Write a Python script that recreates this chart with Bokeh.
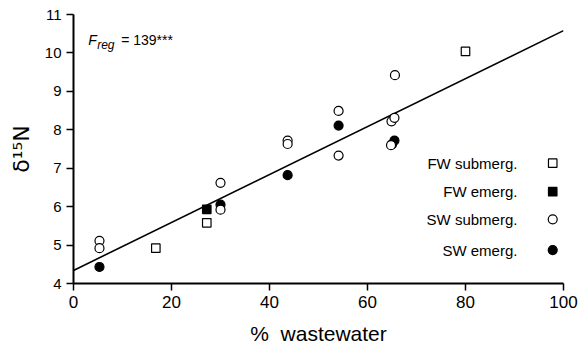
from bokeh.plotting import figure
from bokeh.models import Label, FixedTicker, Range1d
from bokeh.core.properties import value
from bokeh.embed import file_html
from bokeh.resources import INLINE

# ---- data ----
fw_sub_x = [16.8, 27.2, 80.0]
fw_sub_y = [4.92, 5.58, 10.04]
fw_em_x = [27.2]
fw_em_y = [5.93]
sw_sub_x = [5.3, 5.3, 30.0, 30.0, 43.7, 43.7, 54.1, 54.1, 64.9, 65.5, 65.6, 64.8]
sw_sub_y = [5.11, 4.92, 6.62, 5.92, 7.72, 7.63, 8.49, 7.33, 8.22, 8.31, 9.42, 7.6]
sw_em_x = [5.3, 30.0, 43.7, 54.1, 65.0, 65.5]
sw_em_y = [4.43, 6.05, 6.82, 8.11, 7.62, 7.72]
reg_x = [0, 100]
reg_y = [4.34, 10.58]
x_ticks = [0, 20, 40, 60, 80, 100]
y_ticks = [4, 5, 6, 7, 8, 9, 10, 11]
legend_labels = ["FW submerg.", "FW emerg.", "SW submerg.", "SW emerg."]
stat_value = "= 139***"

# ---- layout constants ----
FONT = "Liberation Sans"
legend_text_x = 90.6
legend_mark_x = 97.8
legend_rows_y = [7.13, 6.39, 5.67, 4.87]

p = figure(width=578, height=348, output_backend="svg", toolbar_location=None,
           x_range=Range1d(0, 100), y_range=Range1d(4, 11),
           min_border_left=73, min_border_right=15, min_border_top=14, min_border_bottom=65,
           frame_width=490, frame_height=269)
p.outline_line_color = None
p.grid.visible = False
p.background_fill_color = "white"
p.border_fill_color = "white"

for ax in (p.xaxis[0], p.yaxis[0]):
    ax.axis_line_width = 2
    ax.axis_line_color = "black"
    ax.major_tick_line_width = 1.5
    ax.major_tick_line_color = "black"
    ax.major_tick_out = 7
    ax.major_tick_in = 0
    ax.minor_tick_line_color = None
    ax.major_label_text_font = FONT
    ax.major_label_text_color = "black"
    ax.axis_label_text_font = FONT
    ax.axis_label_text_font_style = "normal"
    ax.axis_label_text_color = "black"

p.xaxis.ticker = FixedTicker(ticks=x_ticks)
p.yaxis.ticker = FixedTicker(ticks=y_ticks)
p.xaxis.major_label_text_font_size = "17px"
p.yaxis.major_label_text_font_size = "15px"
p.xaxis.major_label_standoff = 5
p.yaxis.major_label_standoff = 5
p.xaxis.axis_label = "%\u00a0 wastewater"
p.xaxis.axis_label_text_font_size = "21px"
p.xaxis.axis_label_standoff = 11
p.yaxis.axis_label = "δ¹⁵N"
p.yaxis.axis_label_text_font = "DejaVu Sans"
p.yaxis.axis_label_text_font_size = "22px"
p.yaxis.axis_label_standoff = 8

# regression line
p.line(reg_x, reg_y, line_color="black", line_width=1.6)

# data
p.scatter(sw_em_x, sw_em_y, marker="circle", size=9, fill_color="black", line_color="black", line_width=1.2)
p.scatter(sw_sub_x, sw_sub_y, marker="circle", size=9, fill_color="white", line_color="black", line_width=1.2)
p.scatter(fw_sub_x, fw_sub_y, marker="square", size=8.5, fill_color="white", line_color="black", line_width=1.2)
p.scatter(fw_em_x, fw_em_y, marker="square", size=8.5, fill_color="black", line_color="black", line_width=1.2)

# legend (manual: label right-aligned, marker to the right)
leg_markers = ["square", "square", "circle", "circle"]
leg_fills = ["white", "black", "white", "black"]
leg_sizes = [8.5, 8.5, 9, 9]
p.scatter([legend_mark_x] * 4, legend_rows_y, marker=leg_markers, size=leg_sizes,
          fill_color=leg_fills, line_color="black", line_width=1.2)
p.text([legend_text_x] * 4, legend_rows_y, text=legend_labels, text_align="right",
       text_baseline="middle", text_font=value(FONT), text_font_size="15px", text_color="black")

# F_reg annotation
ann_x, ann_y = 3.0, 10.34
p.add_layout(Label(x=ann_x, y=ann_y, text="F", text_font=FONT, text_font_size="14px",
                   text_font_style="italic", text_baseline="alphabetic", text_color="black"))
p.add_layout(Label(x=ann_x, y=ann_y, x_offset=9, y_offset=-5, text="reg", text_font=FONT,
                   text_font_size="12px", text_font_style="italic", text_baseline="alphabetic",
                   text_color="black"))
p.add_layout(Label(x=ann_x, y=ann_y, x_offset=33, text=stat_value, text_font=FONT,
                   text_font_size="14px", text_baseline="alphabetic", text_color="black"))

open("out.html", "w").write(file_html(p, INLINE))
